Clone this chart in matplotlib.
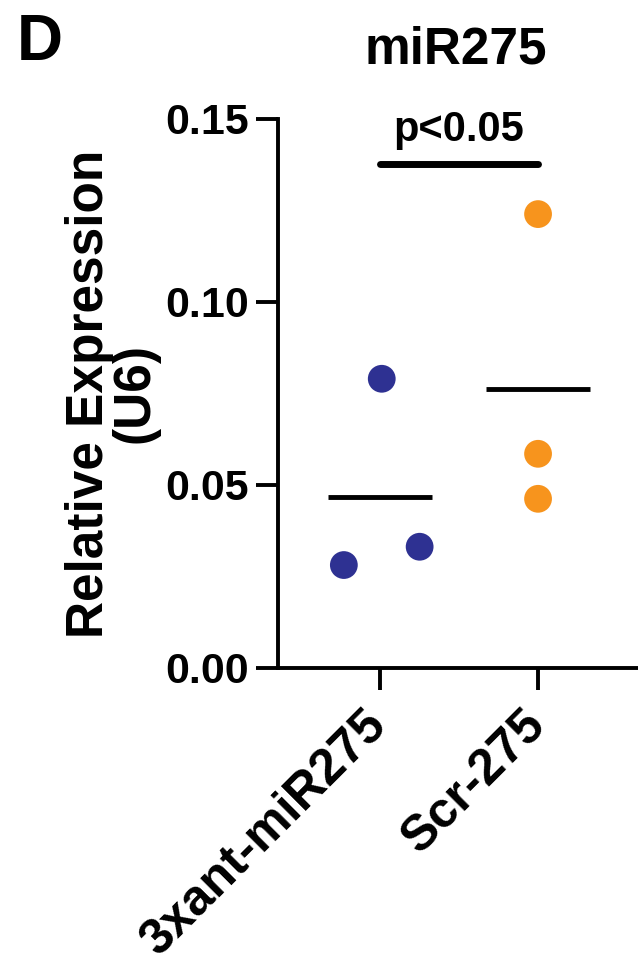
import matplotlib.pyplot as plt
import numpy as np

plt.rcParams['font.family'] = ['Liberation Sans', 'DejaVu Sans']

groups = ['3xant-miR275', 'Scr-275']
ant_vals = [0.079, 0.0331, 0.0281]
scr_vals = [0.124, 0.0585, 0.0462]
ant_jitter = [0.01, 0.25, -0.23]
scr_jitter = [0.0, 0.0, 0.0]
colors = ['#2E3192', '#F7941D']
yticks = [0.00, 0.05, 0.10, 0.15]
sig_text = 'p<0.05'
sig_y = 0.1377

fig = plt.figure(figsize=(6.38, 9.75), dpi=100)
ax = fig.add_axes([0.436, 0.315, 0.564, 0.563])

for i, (vals, jit) in enumerate([(ant_vals, ant_jitter), (scr_vals, scr_jitter)]):
    xs = i + np.array(jit)
    ax.scatter(xs, vals, s=400, color=colors[i], edgecolor='none', zorder=3)
    m = np.mean(vals)
    ax.plot([i - 0.33, i + 0.33], [m, m], color='black', lw=3.5, solid_capstyle='butt')

# significance bar
ax.plot([0, 1], [sig_y, sig_y], color='black', lw=5, solid_capstyle='round')
ax.text(0.5, sig_y + 0.0063, sig_text, ha='center', va='baseline', fontsize=30, fontweight='bold')

ax.set_xlim(-0.646, 1.633)
ax.set_ylim(0, 0.15)
ax.set_yticks(yticks)
ax.set_yticklabels(['%.2f' % t for t in yticks], fontsize=31, fontweight='bold')
ax.set_xticks([0, 1])
ax.set_xticklabels(groups, fontsize=36, fontweight='bold', rotation=45, ha='right', va='center',
                   rotation_mode='anchor')
ax.tick_params(axis='both', length=16, width=2.8, direction='out', pad=5)
ax.tick_params(axis='x', pad=20)

for s in ['top', 'right']:
    ax.spines[s].set_visible(False)
for s in ['left', 'bottom']:
    ax.spines[s].set_linewidth(2.8)
    ax.spines[s].set_capstyle('projecting')

ax.set_ylabel('Relative Expression\n(U6)', fontsize=37, fontweight='bold', labelpad=4, linespacing=0.9)

fig.text(0.063, 0.956, 'D', fontsize=46, fontweight='bold', ha='center', va='center')
fig.text(0.715, 0.949, 'miR275', fontsize=37, fontweight='bold', ha='center', va='center')

fig.savefig('out.png', dpi=100)
